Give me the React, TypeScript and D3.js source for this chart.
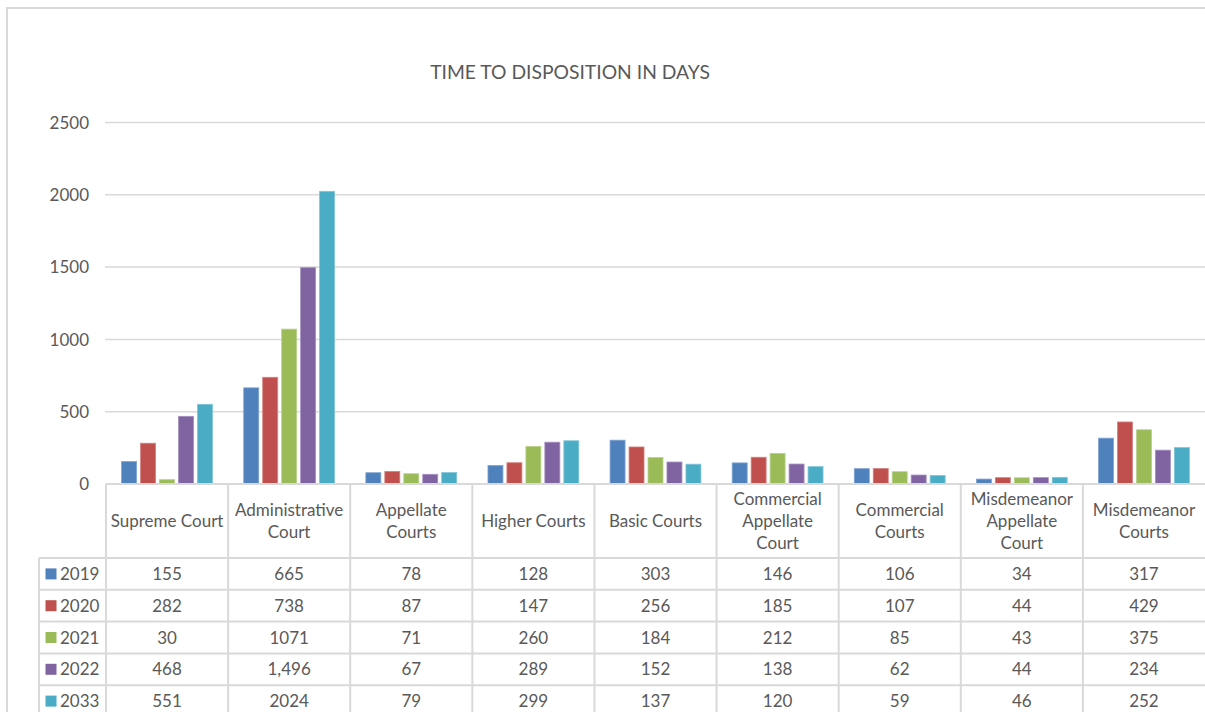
import React from "react";
import * as d3 from "d3";

// Courts shown along the x axis (lines split for the data-table header)
const courts = [
  "Supreme Court",
  "Administrative Court",
  "Appellate Courts",
  "Higher Courts",
  "Basic Courts",
  "Commercial Appellate Court",
  "Commercial Courts",
  "Misdemeanor Appellate Court",
  "Misdemeanor Courts",
];
const courtLines = [
  ["Supreme Court"],
  ["Administrative", "Court"],
  ["Appellate", "Courts"],
  ["Higher Courts"],
  ["Basic Courts"],
  ["Commercial", "Appellate", "Court"],
  ["Commercial", "Courts"],
  ["Misdemeanor", "Appellate", "Court"],
  ["Misdemeanor", "Courts"],
];

const years = ["2019", "2020", "2021", "2022", "2033"];

// Days to disposition, one array per year
const days2019 = [155, 665, 78, 128, 303, 146, 106, 34, 317];
const days2020 = [282, 738, 87, 147, 256, 185, 107, 44, 429];
const days2021 = [30, 1071, 71, 260, 184, 212, 85, 43, 375];
const days2022 = [468, 1496, 67, 289, 152, 138, 62, 44, 234];
const days2033 = [551, 2024, 79, 299, 137, 120, 59, 46, 252];
const seriesValues = [days2019, days2020, days2021, days2022, days2033];

// Cells written with a thousands separator in the table
const commaCells: [string, string][] = [["2022", "Administrative Court"]];

const yTicks = [0, 500, 1000, 1500, 2000, 2500];

const colors = ["#4F81BD", "#C0504D", "#9BBB59", "#8064A2", "#4BACC6"];
const strokes = ["#7FA3D0", "#D4827F", "#B9D08C", "#A58FC0", "#81C5D8"];

const W = 1205;
const H = 712;
const FONT = "Lato, 'Open Sans', sans-serif";
const TEXT = "#595959";
const GRID = "#d9d9d9";
const FS = 17;

export default function App() {
  const plotLeft = 106;
  const plotRight = 1205;
  const y0 = 484;
  const yTop = 122.5;

  const x = d3.scaleBand<string>().domain(courts).range([plotLeft, plotRight]).paddingInner(0).paddingOuter(0);
  const bw = x.bandwidth();
  const xInner = d3
    .scaleBand<string>()
    .domain(years)
    .range([bw * 0.128, bw * 0.872])
    .paddingInner(0.21)
    .paddingOuter(0);
  const y = d3.scaleLinear().domain([0, 2500]).range([y0, yTop]);

  const headerBottom = 558;
  const rowH = 31.8;
  const tableLeft = 39;
  const rowLines = d3.range(years.length + 1).map((i) => headerBottom + i * rowH);

  const fmtComma = d3.format(",");
  const cellText = (yi: number, ci: number) => {
    const v = seriesValues[yi][ci];
    const isComma = commaCells.some(([yr, c]) => yr === years[yi] && c === courts[ci]);
    return isComma ? fmtComma(v) : String(v);
  };

  return (
    <svg
      width={W}
      height={H}
      style={{ position: "absolute", left: 0, top: 0, background: "#fff" }}
      fontFamily={FONT}
    >
      <rect x={0} y={0} width={W} height={H} fill="#fff" />
      {/* chart frame */}
      <rect x={7} y={8} width={1300} height={800} fill="none" stroke={GRID} strokeWidth={2} />

      <text x={570} y={72} dy="0.36em" textAnchor="middle" fontSize={19.3} fill={TEXT}>
        TIME TO DISPOSITION IN DAYS
      </text>

      {/* gridlines and y tick labels */}
      {yTicks.map((t) => (
        <g key={t}>
          {t > 0 && (
            <line x1={plotLeft - 1} x2={plotRight} y1={y(t)} y2={y(t)} stroke={GRID} strokeWidth={1.5} />
          )}
          <text x={89} y={y(t)} dy="0.36em" textAnchor="end" fontSize={FS} fill={TEXT}>
            {t}
          </text>
        </g>
      ))}

      {/* bars */}
      {courts.map((c, ci) => (
        <g key={c} transform={`translate(${x(c)},0)`}>
          {years.map((yr, yi) => {
            const v = seriesValues[yi][ci];
            return (
              <rect
                key={yr}
                x={xInner(yr)}
                y={y(v)}
                width={xInner.bandwidth()}
                height={y0 - y(v)}
                fill={colors[yi]}
                stroke={strokes[yi]}
                strokeWidth={0.8}
              />
            );
          })}
        </g>
      ))}

      {/* data table: header cells */}
      <line x1={plotLeft} x2={plotRight} y1={y0} y2={y0} stroke={GRID} strokeWidth={2} />
      {courts.map((c) => (
        <line
          key={"hv" + c}
          x1={x(c)}
          x2={x(c)}
          y1={y0}
          y2={rowLines[rowLines.length - 1]}
          stroke={GRID}
          strokeWidth={2}
        />
      ))}
      {courtLines.map((lines, ci) => {
        const cx = (x(courts[ci]) as number) + bw / 2;
        const cy = (y0 + headerBottom) / 2;
        const lh = 22;
        return (
          <text key={"h" + ci} textAnchor="middle" fontSize={FS} fill={TEXT}>
            {lines.map((ln, li) => (
              <tspan key={li} x={cx} y={cy + (li - (lines.length - 1) / 2) * lh} dy="0.36em">
                {ln}
              </tspan>
            ))}
          </text>
        );
      })}

      {/* data table: rows */}
      {rowLines.map((ry, i) => (
        <line key={"r" + i} x1={tableLeft} x2={plotRight} y1={ry} y2={ry} stroke={GRID} strokeWidth={2} />
      ))}
      <line x1={tableLeft} x2={tableLeft} y1={headerBottom} y2={rowLines[rowLines.length - 1]} stroke={GRID} strokeWidth={2} />
      {years.map((yr, yi) => {
        const cy = headerBottom + (yi + 0.5) * rowH;
        return (
          <g key={"row" + yr}>
            <rect x={45.5} y={cy - 5.5} width={11} height={11} fill={colors[yi]} />
            <text x={60} y={cy} dy="0.36em" fontSize={FS} fill={TEXT}>
              {yr}
            </text>
            {courts.map((c, ci) => (
              <text
                key={c}
                x={(x(c) as number) + bw / 2}
                y={cy}
                dy="0.36em"
                textAnchor="middle"
                fontSize={FS}
                fill={TEXT}
              >
                {cellText(yi, ci)}
              </text>
            ))}
          </g>
        );
      })}
    </svg>
  );
}
